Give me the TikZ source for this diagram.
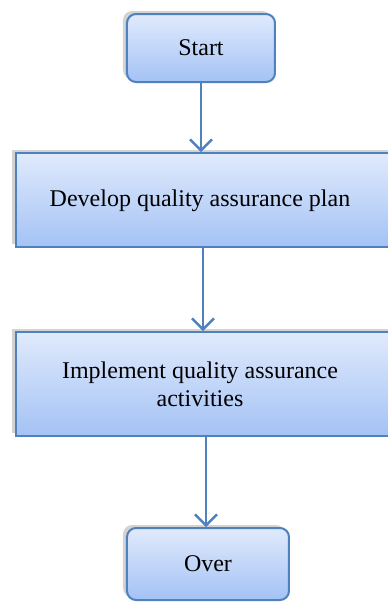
\documentclass[tikz,border=0pt]{standalone}
\usepackage{fontspec}
\setmainfont{Liberation Serif}
\usetikzlibrary{positioning,shadows,arrows.meta}

\definecolor{rand}{RGB}{79,129,189}
\definecolor{oben}{RGB}{224,234,252}
\definecolor{unten}{RGB}{164,194,245}

\tikzset{
  box/.style={draw=rand, line width=1pt, top color=oben, bottom color=unten,
    drop shadow={shadow xshift=-2pt, shadow yshift=1.5pt, opacity=0.35},
    font=\fontsize{12}{14}\selectfont},
  endbox/.style={box, rounded corners=4.5pt, minimum width=74pt, minimum height=34pt},
  bigbox/.style={box, minimum width=190pt},
  flow/.style={draw=rand, line width=1.2pt, -{Straight Barb[length=5.5pt, width=11pt]}}
}

\begin{document}
\begin{tikzpicture}[x=0.5pt, y=-0.5pt]
 \path[use as bounding box, clip] (0,0) rectangle (388,602);
 \node[endbox] (start) at (201,48) {Start};
 \node[bigbox, minimum height=47pt] (plan) at (206,200) {};
 \node[font=\fontsize{12}{14}\selectfont] (plantext) at (200,201) {Develop quality assurance plan};
 \node[bigbox, minimum height=52pt] (impl) at (206,384) {};
 \node[font=\fontsize{12}{14}\selectfont, align=center] (impltext) at (200,384) {Implement quality assurance\\activities};
 \node[endbox, minimum width=81pt, minimum height=36pt] (over) at (208,564) {Over};
% Pfeile von oben nach unten
 \draw[flow] (start.south) -- (start.south |- plan.north);
 \draw[flow] ([xshift=-1.5pt]plan.south) -- ([xshift=-1.5pt]plan.south |- impl.north);
 \draw[flow] (impl.south) -- (impl.south |- over.north);
\end{tikzpicture}
\end{document}
